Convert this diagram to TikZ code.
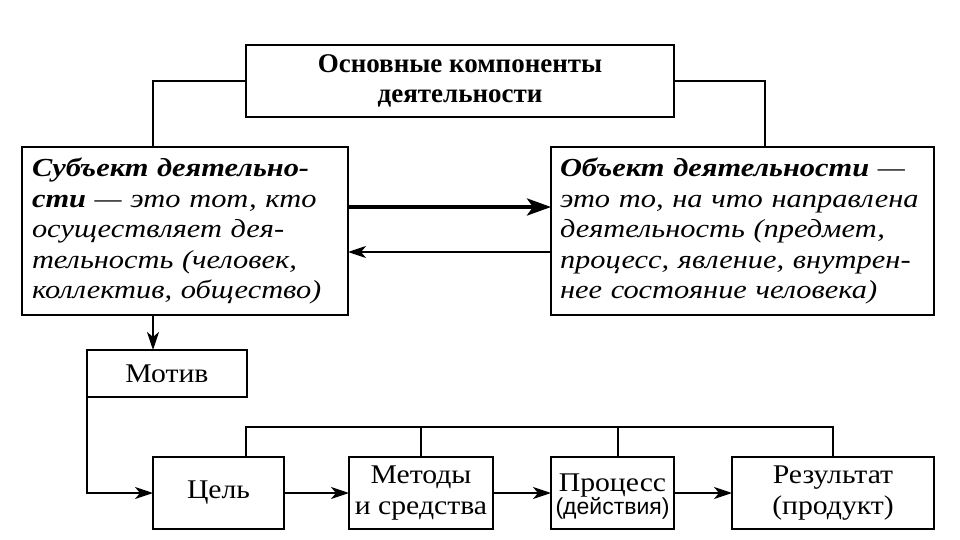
\documentclass[tikz,border=0pt]{standalone}
\usepackage{fontspec}
\setmainfont{Liberation Serif}
\newfontfamily\sansfont{Liberation Sans}
\newfontfamily\deffont[FakeStretch=1.17]{Liberation Serif}
\newfontfamily\boxfont[FakeStretch=1.1]{Liberation Serif}
\usetikzlibrary{positioning,arrows.meta}
\tikzstyle{every node}=[inner sep=0pt,outer sep=0pt]
\tikzstyle{box}=[draw=black,line width=2pt,anchor=north west]
\tikzstyle{defbox}=[box,align=left,inner xsep=10pt,font=\deffont\itshape\fontsize{26}{30.5}\selectfont]
\tikzstyle{stepbox}=[box,align=center,minimum height=72pt,font=\boxfont\fontsize{27}{31}\selectfont]
\tikzstyle{line}=[line width=2pt]
\tikzstyle{arr}=[line,-{Stealth[length=18pt,width=12pt,inset=5pt]}]
\tikzstyle{bigarr}=[line width=4pt,-{Stealth[length=24pt,width=17pt,inset=6pt]}]

\begin{document}
\begin{tikzpicture}[x=1pt,y=-1pt]
  \useasboundingbox (0,0) rectangle (960,540);
  \node[box,minimum width=428pt,minimum height=72pt,align=center,
        font=\bfseries\fontsize{27}{30}\selectfont] (top) at (246,45)
        {Основные компоненты\\деятельности};
  \node[defbox,minimum width=326pt,minimum height=168pt,text width=306pt] (subj) at (22,147)
        {\textbf{Субъект деятельно-}\\\textbf{сти} — это тот, кто\\осуществляет дея-\\тельность (человек,\\коллектив, общество)};
  \node[defbox,minimum width=383pt,minimum height=168pt,text width=365pt,inner xsep=9pt] (obj) at (551,147)
        {\textbf{Объект деятельности} —\\это то, на что направлена\\деятельность (предмет,\\процесс, явление, внутрен-\\нее состояние человека)};
  \node[box,minimum width=160pt,minimum height=47pt,font=\boxfont\fontsize{27}{31}\selectfont] (motiv) at (87,350) {Мотив};
  \node[stepbox,minimum width=131pt] (goal) at (153,457) {Цель};
  \node[stepbox,minimum width=144pt] (methods) at (349,457) {Методы\\и средства};
  \node[stepbox,minimum width=123pt] (proc) at (551,457) {};
  \node[align=center,font=\boxfont\fontsize{27}{24}\selectfont] (proctext) at ([yshift=-4pt]proc.center)
        {Процесс\\[-1pt]{\sansfont\fontsize{23}{24}\selectfont (действия)}};
  \node[stepbox,minimum width=202pt] (result) at (732,457) {Результат\\(продукт)};
  \coordinate (bus) at (0,427);

  \draw[line] (top.west) -| (subj.north -| goal.west);
  \draw[line] (top.east) -| ([xshift=22.5pt]obj.north);
  \draw[bigarr] ([yshift=24pt]subj.east) -- ([yshift=24pt]obj.west);
  \draw[arr] ([yshift=-21pt]obj.west) -- ([yshift=-21pt]subj.east);
  \draw[arr] (subj.south -| goal.west) -- (motiv.north -| goal.west);
  \draw[arr] (motiv.south west) |- (goal.west);
  \draw[arr] (goal) -- (methods);
  \draw[arr] (methods) -- (proc);
  \draw[arr] (proc) -- (result);
  \draw[line] ([xshift=27.5pt]goal.north) |- (bus -| result.north) -- (result.north);
  \draw[line] (methods.north) -- (methods.north |- bus);
  \draw[line] ([xshift=5.5pt]proc.north) -- ([xshift=5.5pt]proc.north |- bus);
\end{tikzpicture}
\end{document}
